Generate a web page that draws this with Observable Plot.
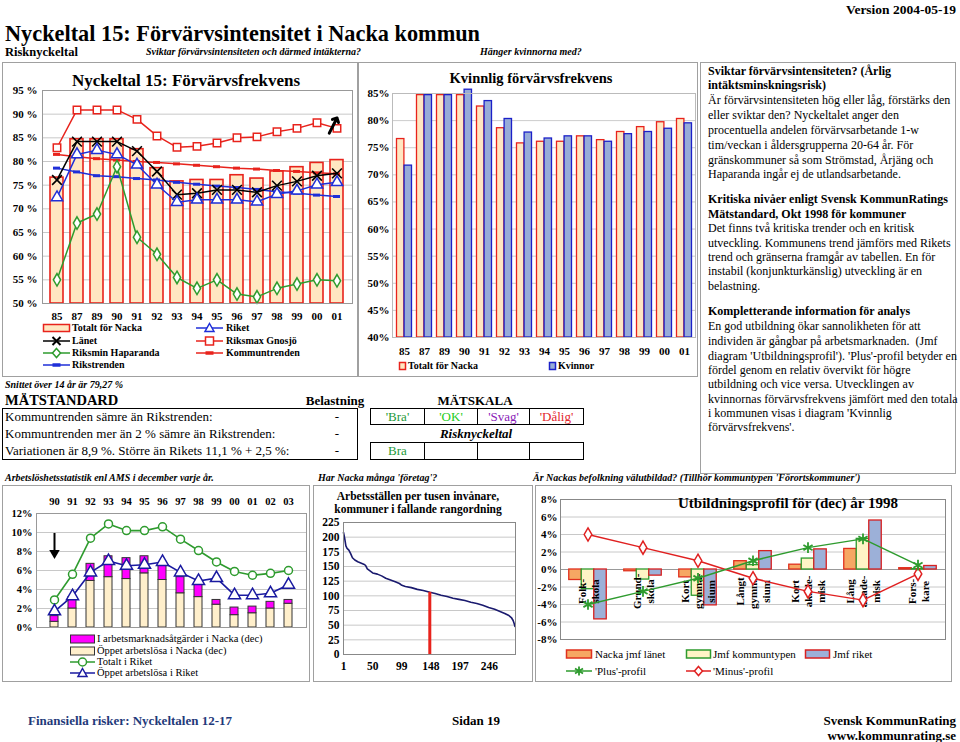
<!DOCTYPE html>
<html><head><meta charset="utf-8">
<script src="https://cdn.jsdelivr.net/npm/d3@7"></script>
<script src="https://cdn.jsdelivr.net/npm/@observablehq/plot@0.6"></script>
<style>
body{margin:0;background:#fff;font-family:"Liberation Serif","Times New Roman",serif;color:#000}
#page{position:relative;width:960px;height:742px;overflow:hidden;background:#fff}
.a{position:absolute;white-space:nowrap;line-height:1}
.fr{position:absolute;border:1px solid #a0a0a0;box-sizing:border-box}
.bx{position:absolute;border:1.5px solid #000;box-sizing:border-box}
.cell{position:absolute;border:1.5px solid #000;box-sizing:border-box;font-size:13px;text-align:center;line-height:15px}
.ch{position:absolute}
</style></head><body><div id="page"></div>
<script>
// ---------------- DATA ----------------
const years = ["85","87","89","90","91","92","93","94","95","96","97","98","99","00","01"];
const totaltNacka = [76.6,84.7,84.7,84.7,82.6,78.6,75.8,76.1,76.1,77.1,76.4,77.9,78.8,79.7,80.3];
const kvinnor = [71.7,84.7,84.7,85.7,83.6,80.3,77.8,76.7,77.1,77.1,76.1,77.5,77.9,78.5,79.5];
const riket = [72.4,81.5,82.4,81.5,79.3,75.1,71.4,71.9,71.9,71.9,71.5,73.1,73.8,75.1,75.6];
const lanet = [76.1,84.2,84.2,84.2,82.2,77.9,73.0,73.3,74.0,74.0,73.5,74.9,75.8,77.0,77.5];
const riksmaxGnosjo = [82.9,90.9,90.9,90.9,88.9,85.4,83.0,83.2,83.9,85.0,85.2,86.3,87.0,88.2,87.0];
const riksminHaparanda = [55.0,67.0,68.9,78.9,64.0,60.4,55.5,53.2,55.0,52.0,51.4,53.2,54.1,55.0,54.8];
const kommuntrenden = [81.5,81.0,80.6,80.3,80.0,79.8,79.5,79.2,78.9,78.6,78.4,78.1,77.9,77.6,77.4];
const rikstrenden = [78.6,77.8,77.0,76.8,76.4,76.1,75.6,75.2,74.8,74.5,74.1,73.6,73.3,72.9,72.6];
const yTicksTop = [50,55,60,65,70,75,80,85,90,95];
const yTicksKv = [40,45,50,55,60,65,70,75,80,85];
const arrowTopLeft = [{year:"01", y:89.2}];

const amsYears = ["90","91","92","93","94","95","96","97","98","99","00","01","02","03"];
const oppetNacka = [0.6,2.0,4.9,5.3,5.1,5.7,5.0,3.6,3.2,2.4,1.3,1.5,2.0,2.5];
const atgarderNacka = [0.6,1.2,1.8,2.2,2.2,1.8,1.7,1.7,1.3,0.5,0.8,0.7,0.7,0.4];
const totaltRiket = [2.9,5.6,9.4,10.9,10.2,10.2,10.6,9.3,8.1,6.9,5.9,5.5,5.7,6.0];
const oppetRiket = [1.7,3.3,5.8,7.0,6.5,6.6,6.9,5.8,4.9,5.2,3.4,3.4,3.6,4.5];
const yTicksAms = [0,2,4,6,8,10,12];
const arrowAms = [{year:"90", from:9.9, to:7.4}];

const rank = [1,3,5,7,10,13,16,20,25,30,35,38,41,45,50,58,65,72,80,88,95,99,105,115,125,135,146,155,165,175,185,195,205,215,225,235,245,255,265,272,278,283,286,288,289];
const arbetsstallen = [208,198,185,181,178,172,165,161,158,156,154,152,146,143,139,137,134,130,127,124,121,118,116,114,111,109,106,104,101,99,96,94,92,89,87,84,80,77,73,70,67,63,58,52,48];
const nackaRank = [{rank:146, value:106}];
const rankTicks = [1,50,99,148,197,246];
const yTicksArb = [0,25,50,75,100,125,150,175,200,225];

const eduCats = ["Folkskola","Grundskola","Kort gymnasium","Långt gymnasium","Kort akademisk","Lång akademisk","Forskare"];
const eduLabels = ["Folk-\nskola","Grund-\nskola","Kort\ngymna-\nsium","Långt\ngymna-\nsium","Kort\nakade-\nmisk","Lång\nakade-\nmisk","Fors-\nkare"];
const nackaJmfLanet = [-1.2,-0.2,-0.9,0.95,0.55,2.35,0.15];
const jmfKommuntypen = [-2.25,-1.15,-3.0,0.5,1.25,3.5,0.05];
const jmfRiket = [-5.7,-0.7,-4.1,2.1,2.3,5.6,0.4];
const plusProfil = [-4.0,-2.5,-1.0,1.0,2.5,3.5,0.5];
const minusProfil = [4.0,2.5,1.0,-1.0,-2.5,-3.5,-0.5];
const yTicksEdu = [-8,-6,-4,-2,0,2,4,6,8];

// ---------------- HELPERS ----------------
const page = document.getElementById("page");
const SERIF = '"Liberation Serif","Times New Roman",serif';
function T(x, y, s, css, anchor) {
  const d = document.createElement("div");
  d.className = "a"; d.textContent = s; d.style.cssText += css;
  d.style.left = x + "px"; d.style.top = y + "px";
  d.style.transform = anchor === "middle" ? "translate(-50%,-50%)" : anchor === "end" ? "translate(-100%,-50%)" : "translateY(-50%)";
  page.appendChild(d);
}
function F(x, y, w, h, cls) {
  const d = document.createElement("div");
  d.className = cls || "fr";
  Object.assign(d.style, {left: x + "px", top: y + "px", width: w + "px", height: h + "px"});
  page.appendChild(d);
  return d;
}
function place(x, y, w, svg) {
  const d = document.createElement("div");
  d.className = "ch";
  Object.assign(d.style, {left: x + "px", top: y + "px", width: w + "px"});
  d.appendChild(svg);
  page.appendChild(d);
}
function sym(x, y, w, o) {
  const h = 14, cy = h / 2, cx = w / 2;
  let s = `<svg xmlns="http://www.w3.org/2000/svg" width="${w}" height="${h}" style="position:absolute;left:${x}px;top:${y - h / 2}px;overflow:visible">`;
  if (o.rect) s += `<rect x="0.5" y="${cy - o.rh / 2}" width="${w - 1}" height="${o.rh}" fill="${o.fill}" stroke="${o.stroke}" stroke-width="${o.sw || 1.5}"/>`;
  if (o.line) s += `<line x1="0" x2="${w}" y1="${cy}" y2="${cy}" stroke="${o.line}" stroke-width="${o.lw || 1.5}"/>`;
  const c = o.mc || o.line;
  switch (o.m) {
    case "triangle": s += `<path d="M${cx},${cy - 4.5}L${cx + 4.5},${cy + 3.5}L${cx - 4.5},${cy + 3.5}Z" fill="#fff" stroke="${c}" stroke-width="1.5"/>`; break;
    case "x": s += `<path d="M${cx - 4},${cy - 4}L${cx + 4},${cy + 4}M${cx + 4},${cy - 4}L${cx - 4},${cy + 4}" stroke="${c}" stroke-width="2"/>`; break;
    case "square": s += `<rect x="${cx - 4}" y="${cy - 4}" width="8" height="8" fill="#fff" stroke="${c}" stroke-width="1.5"/>`; break;
    case "diamond": s += `<path d="M${cx},${cy - 4.5}L${cx + 4},${cy}L${cx},${cy + 4.5}L${cx - 4},${cy}Z" fill="#fff" stroke="${c}" stroke-width="1.5"/>`; break;
    case "dash": s += `<line x1="${cx - 4}" x2="${cx + 4}" y1="${cy}" y2="${cy}" stroke="${c}" stroke-width="3.5"/>`; break;
    case "circle": s += `<circle cx="${cx}" cy="${cy}" r="4" fill="#fff" stroke="${c}" stroke-width="1.5"/>`; break;
    case "asterisk": s += `<path d="M${cx},${cy - 4.5}L${cx},${cy + 4.5}M${cx - 4},${cy - 2.5}L${cx + 4},${cy + 2.5}M${cx + 4},${cy - 2.5}L${cx - 4},${cy + 2.5}" stroke="${c}" stroke-width="1.8"/>`; break;
  }
  s += "</svg>";
  const d = document.createElement("div"); d.innerHTML = s; page.appendChild(d.firstChild);
}
const baseStyle = {fontFamily: SERIF, fontSize: "11px", fontWeight: "bold", color: "#000", background: "transparent", overflow: "visible"};

// ---------------- FRAMES ----------------
F(2, 62, 356, 315); F(358, 62, 340, 315); F(700, 62, 256, 412);
F(2, 485, 308, 197); F(313, 485, 220, 197); F(535, 485, 417, 197);

// ---------------- HEADER ----------------
T(956, 10, "Version 2004-05-19", "font-size:13.5px;font-weight:bold", "end");
T(5, 34, "Nyckeltal 15: Förvärvsintensitet i Nacka kommun", "font-size:22.3px;font-weight:bold");
T(5, 52, "Risknyckeltal", "font-size:12.5px;font-weight:bold");
T(146, 52, "Sviktar förvärvsintensiteten och därmed intäkterna?", "font-size:10px;font-weight:bold;font-style:italic");
T(480, 52, "Hänger kvinnorna med?", "font-size:10px;font-weight:bold;font-style:italic");

// ---------------- CHART 1 ----------------
const RED = "#E8231C", BLUE = "#1F2FD8", GREEN = "#2E9B2E";
const c1rows = years.map((year, i) => ({year, tot: totaltNacka[i], riket: riket[i], lanet: lanet[i], max: riksmaxGnosjo[i], min: riksminHaparanda[i], kt: kommuntrenden[i], rt: rikstrenden[i]}));
T(186, 80, "Nyckeltal 15: Förvärvsfrekvens", "font-size:17px;font-weight:bold", "middle");
place(2, 62, 356, Plot.plot({
  width: 356, height: 266, marginLeft: 40, marginRight: 6, marginTop: 28, marginBottom: 25,
  style: baseStyle,
  x: {domain: years, padding: 0.33, label: null, tickSize: 0, tickPadding: 9},
  y: {domain: [50, 95], ticks: yTicksTop, tickFormat: d => d + " %", label: null, tickSize: 0, tickPadding: 5},
  marks: [
    Plot.ruleY(yTicksTop, {stroke: "#c8c8c8"}),
    Plot.barY(c1rows, {x: "year", y1: d => 50, y2: "tot", fill: "#FFE7C2", stroke: RED, strokeWidth: 1.6}),
    Plot.line(c1rows, {x: "year", y: "kt", stroke: RED, strokeWidth: 1.5}),
    Plot.tickY(c1rows, {x: "year", y: "kt", stroke: RED, strokeWidth: 3, insetLeft: 3, insetRight: 3}),
    Plot.line(c1rows, {x: "year", y: "rt", stroke: BLUE, strokeWidth: 1.5}),
    Plot.tickY(c1rows, {x: "year", y: "rt", stroke: BLUE, strokeWidth: 3, insetLeft: 3, insetRight: 3}),
    Plot.line(c1rows, {x: "year", y: "max", stroke: RED, strokeWidth: 1.5}),
    Plot.dot(c1rows, {x: "year", y: "max", symbol: "square", r: 4.2, fill: "#fff", stroke: RED, strokeWidth: 1.5}),
    Plot.line(c1rows, {x: "year", y: "min", stroke: GREEN, strokeWidth: 1.5}),
    Plot.dot(c1rows, {x: "year", y: "min", symbol: "diamond", r: 3.8, fill: "#fff", stroke: GREEN, strokeWidth: 1.5}),
    Plot.line(c1rows, {x: "year", y: "lanet", stroke: "#000", strokeWidth: 1.5}),
    Plot.dot(c1rows, {x: "year", y: "lanet", symbol: "times", r: 4.5, stroke: "#000", strokeWidth: 1.6}),
    Plot.line(c1rows, {x: "year", y: "riket", stroke: BLUE, strokeWidth: 1.5}),
    Plot.dot(c1rows, {x: "year", y: "riket", symbol: "triangle", r: 4.2, fill: "#fff", stroke: BLUE, strokeWidth: 1.5}),
    Plot.vector(arrowTopLeft, {x: "year", y: "y", rotate: 27, length: 17, anchor: "end", stroke: "#000", strokeWidth: 3}),
    Plot.frame({stroke: "#999"})
  ]
}));
const lg1 = "font-size:10px;font-weight:bold";
sym(43, 328, 27, {rect: true, rh: 7, fill: "#FFE7C2", stroke: RED}); T(72, 328, "Totalt för Nacka", lg1);
sym(196, 328, 27, {line: BLUE, m: "triangle"}); T(226, 328, "Riket", lg1);
sym(43, 341, 27, {line: "#000", m: "x"}); T(72, 341, "Länet", lg1);
sym(196, 341, 27, {line: RED, m: "square"}); T(226, 341, "Riksmax Gnosjö", lg1);
sym(43, 353, 27, {line: GREEN, m: "diamond"}); T(72, 353, "Riksmin Haparanda", lg1);
sym(196, 353, 27, {line: RED, m: "dash"}); T(226, 353, "Kommuntrenden", lg1);
sym(43, 365, 27, {line: BLUE, m: "dash"}); T(72, 365, "Rikstrenden", lg1);

// ---------------- CHART 2 ----------------
const c2rows = years.map((year, i) => ({year, tot: totaltNacka[i], kv: kvinnor[i]}));
T(531, 78, "Kvinnlig förvärvsfrekvens", "font-size:14.5px;font-weight:bold", "middle");
place(360, 62, 338, Plot.plot({
  width: 338, height: 297, marginLeft: 32, marginRight: 3, marginTop: 31, marginBottom: 22,
  style: baseStyle,
  x: {domain: years, padding: 0, label: null, tickSize: 0, tickPadding: 10},
  y: {domain: [40, 85], ticks: yTicksKv, tickFormat: d => d + "%", label: null, tickSize: 0, tickPadding: 3},
  marks: [
    Plot.ruleY(yTicksKv, {stroke: "#cccccc"}),
    Plot.barY(c2rows, {x: "year", y1: d => 40, y2: "tot", fill: "#FFE7C2", stroke: RED, strokeWidth: 1.3, insetLeft: 2.5, insetRight: 10.1}),
    Plot.barY(c2rows, {x: "year", y1: d => 40, y2: "kv", fill: "#97ACD8", stroke: "#1B20C8", strokeWidth: 1.3, insetLeft: 10.1, insetRight: 2.5}),
    Plot.ruleY([40], {stroke: "#888"}),
    Plot.frame({stroke: "#bbb"})
  ]
}));
sym(399, 366, 7, {rect: true, rh: 7, fill: "#FFE7C2", stroke: RED}); T(408, 366, "Totalt för Nacka", lg1);
sym(549, 366, 7, {rect: true, rh: 7, fill: "#97ACD8", stroke: "#1B20C8"}); T(558, 366, "Kvinnor", lg1);

// ---------------- RIGHT TEXT PANEL ----------------
const panel = [
  ["Sviktar förvärvsintensiteten? (Årlig", 1, 71], ["intäktsminskningsrisk)", 1, 85],
  ["Är förvärvsintensiteten hög eller låg, förstärks den", 0, 100], ["eller sviktar den? Nyckeltalet anger den", 0, 115],
  ["procentuella andelen förvärvsarbetande 1-w", 0, 130], ["tim/veckan i åldersgrupperna 20-64 år. För", 0, 145],
  ["gränskommuner så som Strömstad, Årjäng och", 0, 160], ["Haparanda ingår ej de utlandsarbetande.", 0, 174],
  ["Kritiska nivåer enligt Svensk KommunRatings", 1, 199], ["Mätstandard, Okt 1998 för kommuner", 1, 214],
  ["Det finns två kritiska trender och en kritisk", 0, 228], ["utveckling. Kommunens trend jämförs med Rikets", 0, 243],
  ["trend och gränserna framgår av tabellen. En för", 0, 257], ["instabil (konjunkturkänslig) utveckling är en", 0, 271],
  ["belastning.", 0, 286],
  ["Kompletterande information för analys", 1, 311],
  ["En god utbildning ökar sannolikheten för att", 0, 326], ["individen är gångbar på arbetsmarknaden.  (Jmf", 0, 341],
  ["diagram 'Utbildningsprofil'). 'Plus'-profil betyder en", 0, 356], ["fördel genom en relativ övervikt för högre", 0, 370],
  ["utbildning och vice versa. Utvecklingen av", 0, 384], ["kvinnornas förvärvsfrekvens jämfört med den totala", 0, 399],
  ["i kommunen visas i diagram 'Kvinnlig", 0, 413], ["förvärvsfrekvens'.", 0, 427]
];
panel.forEach(([s, b, y]) => T(708, y, s, "font-size:12px;white-space:pre;" + (b ? "font-weight:bold" : "")));

// ---------------- TABLE ----------------
T(5, 385, "Snittet över 14 år är 79,27 %", "font-size:10px;font-weight:bold;font-style:italic");
T(5, 400, "MÄTSTANDARD", "font-size:14.5px;font-weight:bold");
T(335, 400, "Belastning", "font-size:13px;font-weight:bold", "middle");
T(475, 400, "MÄTSKALA", "font-size:13px;font-weight:bold", "middle");
F(2, 408, 356, 52, "bx");
T(5, 416, "Kommuntrenden sämre än Rikstrenden:", "font-size:13px");
T(5, 433, "Kommuntrenden mer än 2 % sämre än Rikstrenden:", "font-size:13px");
T(5, 450, "Variationen är 8,9 %. Större än Rikets 11,1 % + 2,5 %:", "font-size:13px");
T(337, 416, "-", "font-size:13px", "middle"); T(337, 433, "-", "font-size:13px", "middle"); T(337, 450, "-", "font-size:13px", "middle");
const cellsX = [370, 424, 477, 529, 583];
const scaleTxt = [["'Bra'", "#1E9A3A"], ["'OK'", "#22CC22"], ["'Svag'", "#8A1AB8"], ["'Dålig'", "#E3262C"]];
scaleTxt.forEach(([s, col], i) => {
  const d = F(cellsX[i], 408, cellsX[i + 1] - cellsX[i] + 1, 17, "cell"); d.textContent = s; d.style.color = col;
  const e = F(cellsX[i], 442, cellsX[i + 1] - cellsX[i] + 1, 18, "cell");
  if (i === 0) { e.textContent = "Bra"; e.style.color = "#1E9A3A"; e.style.lineHeight = "16px"; }
});
T(476, 433, "Risknyckeltal", "font-size:13px;font-weight:bold;font-style:italic", "middle");

// ---------------- SECTION HEADERS ----------------
const sh = "font-size:10px;font-weight:bold;font-style:italic";
T(5, 478, "Arbetslöshetsstatistik enl AMS i december varje år.", sh);
T(318, 478, "Har Nacka många 'företag'?", sh);
T(533, 478, "Är Nackas befolkning välutbildad? (Tillhör kommuntypen 'Förortskommuner')", sh);

// ---------------- CHART 3 (AMS) ----------------
const c3rows = amsYears.map((year, i) => ({year, op: oppetNacka[i], atg: atgarderNacka[i], tr: totaltRiket[i], or: oppetRiket[i]}));
const NAVY = "#1A1AA0";
place(2, 485, 308, Plot.plot({
  width: 308, height: 146, marginLeft: 34, marginRight: 4, marginTop: 28, marginBottom: 4,
  style: {...baseStyle, fontSize: "10.5px"},
  x: {domain: amsYears, axis: "top", padding: 0.58, label: null, tickSize: 0, tickPadding: 9},
  y: {domain: [0, 12], ticks: yTicksAms, tickFormat: d => d + "%", label: null, tickSize: 0, tickPadding: 4},
  marks: [
    Plot.ruleY(yTicksAms, {stroke: "#c8c8c8"}),
    Plot.barY(c3rows, {x: "year", y1: d => 0, y2: "op", fill: "#FFEFCB", stroke: "#333", strokeWidth: 1}),
    Plot.barY(c3rows, {x: "year", y1: "op", y2: d => d.op + d.atg, fill: "#FF00FF", stroke: "#333", strokeWidth: 1}),
    Plot.line(c3rows, {x: "year", y: "tr", stroke: GREEN, strokeWidth: 1.6}),
    Plot.dot(c3rows, {x: "year", y: "tr", r: 4, fill: "#fff", stroke: GREEN, strokeWidth: 1.5}),
    Plot.line(c3rows, {x: "year", y: "or", stroke: NAVY, strokeWidth: 1.6}),
    Plot.dot(c3rows, {x: "year", y: "or", symbol: "triangle", r: 4.5, fill: "#fff", stroke: NAVY, strokeWidth: 1.5}),
    Plot.ruleX(arrowAms, {x: "year", y1: "from", y2: d => d.to + 0.6, stroke: "#000", strokeWidth: 2}),
    Plot.dot(arrowAms, {x: "year", y: d => d.to + 0.45, symbol: "triangle2", rotate: 180, r: 5, fill: "#000"}),
    Plot.frame({stroke: "#999"})
  ]
}));
const lg3 = "font-size:10.5px";
sym(70, 639, 25, {rect: true, rh: 8, fill: "#FF00FF", stroke: "#333", sw: 1}); T(97, 639, "I arbetsmarknadsåtgärder i Nacka (dec)", lg3);
sym(70, 651, 25, {rect: true, rh: 8, fill: "#FFEFCB", stroke: "#333", sw: 1}); T(97, 651, "Öppet arbetslösa i Nacka (dec)", lg3);
sym(70, 662, 25, {line: GREEN, m: "circle"}); T(97, 662, "Totalt i Riket", lg3);
sym(70, 673, 25, {line: NAVY, m: "triangle"}); T(97, 673, "Öppet arbetslösa i Riket", lg3);

// ---------------- CHART 4 (Arbetsställen) ----------------
const c4rows = rank.map((r, i) => ({rank: r, value: arbetsstallen[i]}));
T(418, 497, "Arbetsställen per tusen invånare,", "font-size:11.5px;font-weight:bold", "middle");
T(418, 510, "kommuner i fallande rangordning", "font-size:11.5px;font-weight:bold", "middle");
place(313, 485, 219, Plot.plot({
  width: 219, height: 191, marginLeft: 30, marginRight: 17, marginTop: 37, marginBottom: 22,
  style: {...baseStyle, fontSize: "11.5px"},
  x: {type: "linear", domain: [1, 290], ticks: rankTicks, tickFormat: d => String(d), label: null, tickSize: 0, tickPadding: 7},
  y: {domain: [0, 225], ticks: yTicksArb, label: null, tickSize: 0, tickPadding: 4},
  marks: [
    Plot.ruleY(yTicksArb, {stroke: "#c8c8c8"}),
    Plot.line(c4rows, {x: "rank", y: "value", stroke: "#1A1A6E", strokeWidth: 1.6}),
    Plot.ruleX(nackaRank, {x: "rank", y1: d => 0, y2: "value", stroke: "#E8231C", strokeWidth: 3}),
    Plot.frame({stroke: "#888"})
  ]
}));

// ---------------- CHART 5 (Utbildningsprofil) ----------------
const c5rows = eduCats.map((cat, i) => ({cat, label: eduLabels[i], lan: nackaJmfLanet[i], typ: jmfKommuntypen[i], rik: jmfRiket[i], plus: plusProfil[i], minus: minusProfil[i]}));
place(533, 485, 425, Plot.plot({
  width: 425, height: 162, marginLeft: 27, marginRight: 13, marginTop: 14, marginBottom: 8,
  style: baseStyle,
  x: {domain: eduCats, axis: null, padding: 0},
  y: {domain: [-8, 8], ticks: yTicksEdu, tickFormat: d => d + "%", label: null, tickSize: 0, tickPadding: 3},
  marks: [
    Plot.ruleY(yTicksEdu, {stroke: "#c8c8c8"}),
    Plot.ruleY([0], {stroke: "#999"}),
    Plot.barY(c5rows, {x: "cat", y1: d => 0, y2: "lan", fill: "#F6A763", stroke: "#E0301E", strokeWidth: 1.3, insetLeft: 8.75, insetRight: 33.75}),
    Plot.barY(c5rows, {x: "cat", y1: d => 0, y2: "typ", fill: "#FFF4C6", stroke: "#2E9B2E", strokeWidth: 1.3, insetLeft: 21.25, insetRight: 21.25}),
    Plot.barY(c5rows, {x: "cat", y1: d => 0, y2: "rik", fill: "#9CB0D8", stroke: "#D82020", strokeWidth: 1.3, insetLeft: 33.75, insetRight: 8.75}),
    Plot.text(c5rows, {x: "cat", y: d => -2.5, text: "label", rotate: -90, fontSize: 11, fontWeight: "bold", lineHeight: 1.2, textAnchor: "middle", lineAnchor: "middle", fill: "#000"}),
    Plot.line(c5rows, {x: "cat", y: "minus", stroke: "#E02020", strokeWidth: 1.5}),
    Plot.dot(c5rows, {x: "cat", y: "minus", symbol: "diamond", r: 4, fill: "#fff", stroke: "#E02020", strokeWidth: 1.5}),
    Plot.line(c5rows, {x: "cat", y: "plus", stroke: "#2E9B2E", strokeWidth: 1.5}),
    Plot.dot(c5rows, {x: "cat", y: "plus", symbol: "asterisk", r: 5, stroke: "#2E9B2E", strokeWidth: 1.8}),
    Plot.frame({stroke: "#888"})
  ]
}));
T(788, 503, "Utbildningsprofil för (dec) år 1998", "font-size:15px;font-weight:bold", "middle");
const lg5 = "font-size:11px";
sym(566, 654, 26, {rect: true, rh: 8, fill: "#F6A763", stroke: "#E0301E"}); T(595, 654, "Nacka jmf länet", lg5);
sym(686, 654, 25, {rect: true, rh: 8, fill: "#FFF4C6", stroke: "#2E9B2E"}); T(713, 654, "Jmf kommuntypen", lg5);
sym(805, 654, 25, {rect: true, rh: 8, fill: "#9CB0D8", stroke: "#D82020"}); T(833, 654, "Jmf riket", lg5);
sym(566, 671, 26, {line: "#2E9B2E", m: "asterisk"}); T(595, 671, "'Plus'-profil", lg5);
sym(686, 671, 25, {line: "#E02020", m: "diamond"}); T(713, 671, "'Minus'-profil", lg5);

// ---------------- FOOTER ----------------
T(28, 720, "Finansiella risker: Nyckeltalen 12-17", "font-size:13px;font-weight:bold;color:#1F3A7A");
T(452, 720, "Sidan 19", "font-size:13px;font-weight:bold");
T(956, 720, "Svensk KommunRating", "font-size:13px;font-weight:bold", "end");
T(956, 735, "www.kommunrating.se", "font-size:13px;font-weight:bold", "end");
</script></body></html>
